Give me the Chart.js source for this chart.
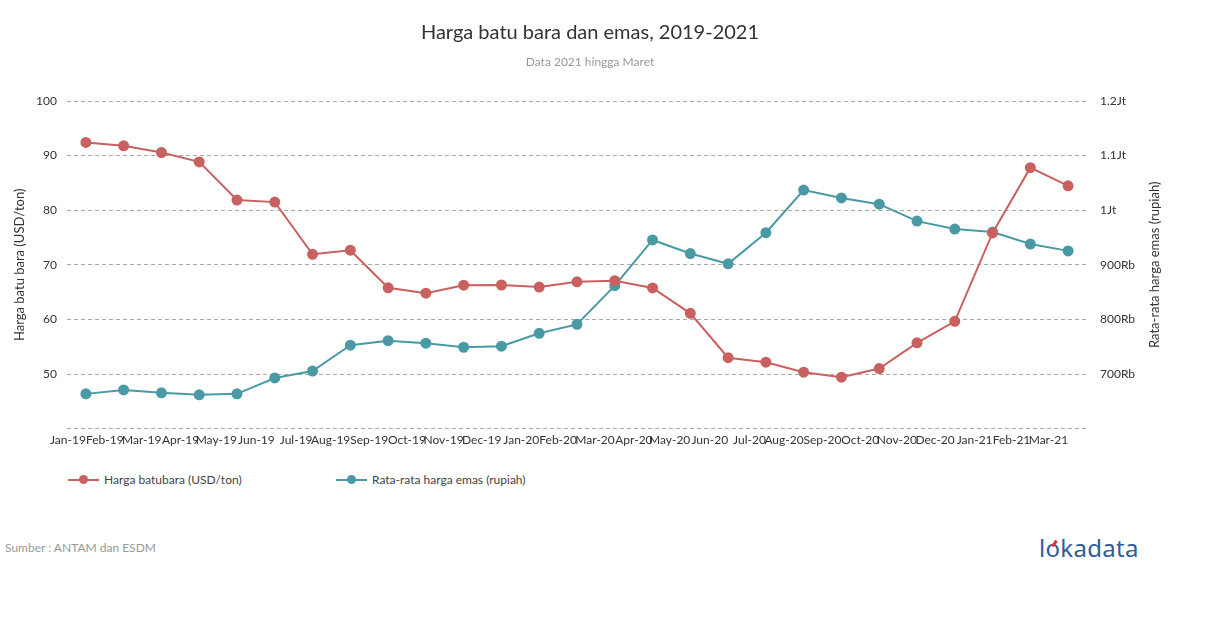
<!DOCTYPE html>
<html>
<head>
<meta charset="utf-8">
<script src="https://cdn.jsdelivr.net/npm/chart.js@4"></script>
<style>
  body { margin: 0; background: #fff; font-family: Lato, sans-serif; }
  #wrap { position: relative; width: 1210px; height: 628px; }
  #box { position: absolute; left: 0; top: 0; width: 1180px; height: 451px; }
  .leg { position: absolute; top: 472px; font-size: 12px; color: #444; line-height: 16px; }
  .leg .mk { position: absolute; top: 7px; width: 31px; height: 2px; }
  .leg .mk i { position: absolute; left: 11px; top: -4px; width: 9px; height: 9px; border-radius: 50%; }
  .leg span.t { position: absolute; white-space: nowrap; }
  #src { position: absolute; left: 5px; top: 540px; font-size: 12px; color: #999; }
  #logo { position: absolute; left: 1039px; top: 531px; font-size: 24px; color: #2e5c9c; font-family: "Noto Sans", sans-serif; letter-spacing: 0.3px; }
  #logo b { position: relative; font-weight: normal; }
  #logo b:after { content: ''; position: absolute; left: 7px; top: 9px; width: 3px; height: 7px; background: #d8343a; transform: rotate(35deg); }
</style>
</head>
<body>
<div id="wrap">
  <div id="box"><canvas id="lineChart"></canvas></div>
  <div class="leg" style="left:68px">
    <div class="mk" style="background:#c8615f"><i style="background:#c8615f"></i></div>
    <span class="t" style="left:36px">Harga batubara (USD/ton)</span>
  </div>
  <div class="leg" style="left:336px">
    <div class="mk" style="background:#4a9aa5"><i style="background:#4a9aa5"></i></div>
    <span class="t" style="left:36px">Rata-rata harga emas (rupiah)</span>
  </div>
  <div id="src">Sumber : ANTAM dan ESDM</div>
  <div id="logo">l<b>o</b>kadata</div>
</div>
<script>
var months = ['Jan-19', 'Feb-19', 'Mar-19', 'Apr-19', 'May-19', 'Jun-19', 'Jul-19', 'Aug-19', 'Sep-19',
    'Oct-19', 'Nov-19', 'Dec-19', 'Jan-20', 'Feb-20', 'Mar-20', 'Apr-20', 'May-20', 'Jun-20',
    'Jul-20', 'Aug-20', 'Sep-20', 'Oct-20', 'Nov-20', 'Dec-20', 'Jan-21', 'Feb-21', 'Mar-21'];

// harga batubara acuan, USD/ton
var coal = [92.41, 91.80, 90.57, 88.85, 81.86, 81.48, 71.92, 72.67, 65.79,
    64.80, 66.27, 66.30, 65.93, 66.89, 67.08, 65.77, 61.11, 52.98,
    52.16, 50.34, 49.42, 51.00, 55.71, 59.65, 75.84, 87.79, 84.47];

// rata-rata harga emas, rupiah
var gold = [663600, 670900, 665500, 661800, 663600, 692700, 705500, 752700, 761000,
    756400, 749000, 750900, 774500, 790900, 861800, 945500, 920600, 901800,
    958800, 1036900, 1022400, 1011000, 980000, 965500, 960000, 938000, 925500];

var leftTicks = [40, 50, 60, 70, 80, 90, 100];

function rupiah(v) {
    if (v >= 1000000) return (v / 1000000).toString() + 'Jt';
    return (v / 1000) + 'Rb';
}

var red = '#c8615f';
var teal = '#4a9aa5';
var tickFont = { family: 'Lato', size: 12 };

// right axis title reads bottom-to-top like the left one
var rightTitle = {
    id: 'rightTitle',
    afterDraw: function (chart) {
        var area = chart.chartArea;
        var c = chart.ctx;
        c.save();
        c.translate(1155, (area.top + area.bottom) / 2);
        c.rotate(-Math.PI / 2);
        c.font = '13px Lato';
        c.fillStyle = '#333';
        c.textAlign = 'center';
        c.textBaseline = 'middle';
        c.fillText('Rata-rata harga emas (rupiah)', 0, 0);
        c.restore();
    }
};

var ctx = document.getElementById('lineChart');
var myChart = new Chart(ctx, {
    type: 'line',
    data: {
        labels: months,
        datasets: [{
            label: 'Harga batubara (USD/ton)',
            data: coal,
            yAxisID: 'y',
            borderColor: red,
            backgroundColor: red,
            borderWidth: 2,
            pointRadius: 4.5,
            pointHoverRadius: 5
        }, {
            label: 'Rata-rata harga emas (rupiah)',
            data: gold,
            yAxisID: 'y1',
            borderColor: teal,
            backgroundColor: teal,
            borderWidth: 2,
            pointRadius: 4.5,
            pointHoverRadius: 5
        }]
    },
    options: {
        responsive: true,
        maintainAspectRatio: false,
        animation: false,
        layout: { padding: 0 },
        plugins: {
            legend: { display: false },
            tooltip: { enabled: false },
            title: {
                display: true,
                text: 'Harga batu bara dan emas, 2019-2021',
                color: '#333',
                font: { family: 'Lato', size: 20, weight: 'normal' },
                padding: { top: 21, bottom: 10 }
            },
            subtitle: {
                display: true,
                text: 'Data 2021 hingga Maret',
                color: '#999',
                font: { family: 'Lato', size: 12 },
                padding: { top: 0, bottom: 31.6 }
            }
        },
        scales: {
            x: {
                offset: true,
                grid: { display: false, drawTicks: false },
                border: { display: false },
                ticks: {
                    autoSkip: false,
                    maxRotation: 0,
                    minRotation: 0,
                    align: 'end',
                    padding: 4,
                    color: '#333',
                    font: tickFont
                }
            },
            y: {
                position: 'left',
                min: 40,
                max: 100,
                afterBuildTicks: function (scale) {
                    scale.ticks = leftTicks.map(function (v) { return { value: v }; });
                },
                afterFit: function (scale) { scale.width = 67; },
                grid: { color: '#aaa', lineWidth: 1, drawTicks: false },
                border: { display: false, dash: [4, 3] },
                ticks: {
                    padding: 10,
                    color: '#333',
                    font: tickFont,
                    callback: function (v) { return v === 40 ? '' : v; }
                },
                title: {
                    display: true,
                    text: 'Harga batu bara (USD/ton)',
                    color: '#333',
                    font: { family: 'Lato', size: 13 },
                    padding: { top: 12, bottom: 0 }
                }
            },
            y1: {
                position: 'right',
                min: 600000,
                max: 1200000,
                afterFit: function (scale) { scale.width = 93; },
                grid: { display: false, drawTicks: false },
                border: { display: false },
                ticks: {
                    stepSize: 100000,
                    padding: 13,
                    color: '#333',
                    font: tickFont,
                    callback: function (v) { return v === 600000 ? '' : rupiah(v); }
                }
            }
        }
    },
    plugins: [rightTitle]
});
</script>
</body>
</html>
